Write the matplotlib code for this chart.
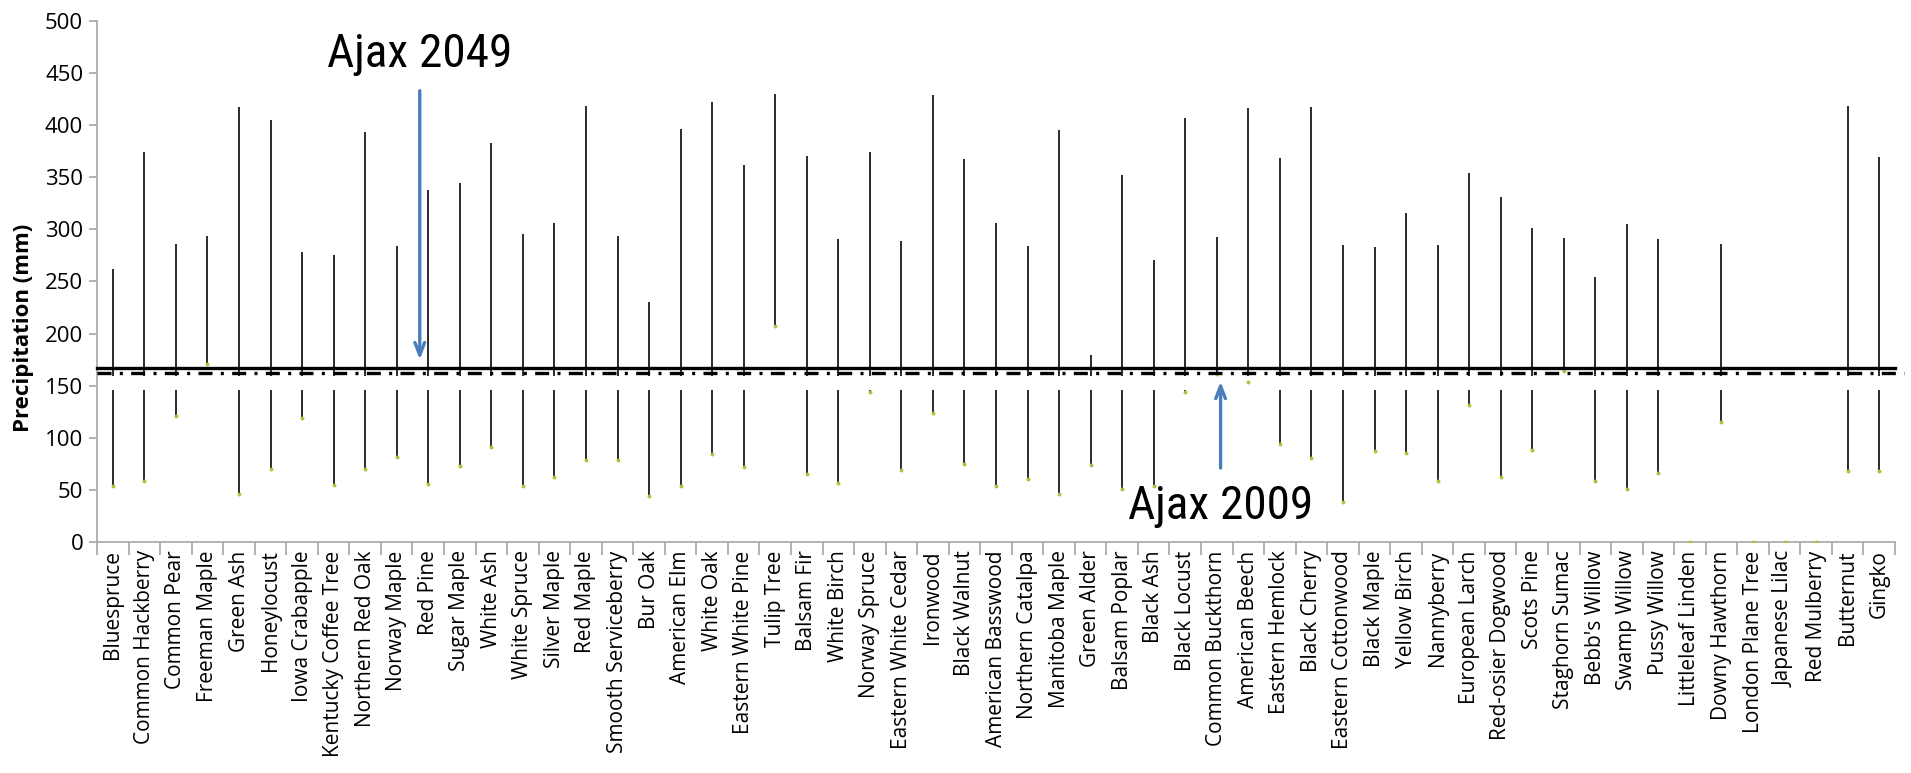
#!/usr/bin/env python3
"""Growing-season precipitation ranges for street and park tree species."""

import matplotlib

matplotlib.use("Agg")
import matplotlib.pyplot as plt
from matplotlib import font_manager
import numpy as np

species = [
    "Bluespruce", "Common Hackberry", "Common Pear", "Freeman Maple", "Green Ash",
    "Honeylocust", "Iowa Crabapple", "Kentucky Coffee Tree", "Northern Red Oak",
    "Norway Maple", "Red Pine", "Sugar Maple", "White Ash", "White Spruce",
    "Silver Maple", "Red Maple", "Smooth Serviceberry", "Bur Oak", "American Elm",
    "White Oak", "Eastern White Pine", "Tulip Tree", "Balsam Fir", "White Birch",
    "Norway Spruce", "Eastern White Cedar", "Ironwood", "Black Walnut",
    "American Basswood", "Northern Catalpa", "Manitoba Maple", "Green Alder",
    "Balsam Poplar", "Black Ash", "Black Locust", "Common Buckthorn",
    "American Beech", "Eastern Hemlock", "Black Cherry", "Eastern Cottonwood",
    "Black Maple", "Yellow Birch", "Nannyberry", "European Larch",
    "Red-osier Dogwood", "Scots Pine", "Staghorn Sumac", "Bebb's Willow",
    "Swamp Willow", "Pussy Willow", "Littleleaf Linden", "Downy Hawthorn",
    "London Plane Tree", "Japanese Lilac", "Red Mulberry", "Butternut", "Gingko",
]

# upper end of each species' precipitation range (mm)
precip_max = [
    262, 374, 286, 294, 417, 405, 278, 275, 393, 284,
    338, 344, 383, 296, 306, 418, 294, 230, 396, 422,
    362, 430, 370, 291, 374, 289, 429, 367, 306, 284,
    395, 179, 352, 271, 407, 293, 416, 368, 417, 285,
    283, 316, 285, 354, 331, 301, 292, 254, 305, 291,
    0, 286, 0, 0, 0, 418, 369,
]

# lower end of each species' precipitation range (mm)
precip_min = [
    54, 59, 121, 171, 46, 70, 119, 55, 70, 82,
    56, 73, 91, 54, 62, 79, 79, 44, 54, 84,
    72, 207, 65, 57, 144, 69, 124, 75, 54, 60,
    46, 74, 51, 54, 144, 161, 154, 94, 81, 38,
    87, 85, 59, 131, 62, 88, 164, 59, 51, 66,
    0, 115, 0, 0, 0, 68, 68,
]

ajax_2049 = 167.4  # mm, projected
ajax_2009 = 162.2  # mm, observed

y_ticks = np.arange(0, 501, 50)

LINE_GAP = (146, 159)  # white break in the range bars
ARROW_BLUE = "#4a7ebb"
AXIS_GREY = "#a6a6a6"


def pick_family(names):
    installed = {f.name for f in font_manager.fontManager.ttflist}
    return [n for n in names if n in installed] or ["DejaVu Sans"]


def main():
    fig = plt.figure(figsize=(19.11, 7.73), dpi=100)
    ax = fig.add_axes([0.0508, 0.2988, 0.9408, 0.6742])

    x = np.arange(len(species))
    lo = np.array(precip_min, dtype=float)
    hi = np.array(precip_max, dtype=float)

    ax.vlines(x, lo, hi, color="#1a1a1a", lw=1.3, zorder=2)
    ax.axhspan(*LINE_GAP, color="white", lw=0, zorder=2.2)
    ax.plot(x, lo, ls="none", marker="o", ms=2.8, color="#b8bd3c",
            mec="none", zorder=3)

    ax.plot([-0.5, 56.5], [ajax_2049, ajax_2049], color="black", lw=2.4,
            zorder=3, clip_on=False)
    ax.plot([-0.5, 56.8], [ajax_2009, ajax_2009], color="black", lw=2.4,
            ls=(0, (4.2, 2.5, 0.9, 2.5)), zorder=3, clip_on=False)

    # annotations for the two Ajax scenarios
    narrow = pick_family(["Liberation Sans Narrow", "Roboto Condensed",
                          "Open Sans Condensed", "Roboto"])
    head = "->,head_length=0.9,head_width=0.35"
    ax.annotate("", xy=(9.73, 175), xytext=(9.73, 433),
                arrowprops=dict(arrowstyle=head, color=ARROW_BLUE, lw=2.4,
                                shrinkA=0, shrinkB=0))
    ax.text(9.73, 468, "Ajax 2049", ha="center", va="center", fontsize=34,
            family=narrow)
    ax.annotate("", xy=(35.12, 154), xytext=(35.12, 71),
                arrowprops=dict(arrowstyle=head, color=ARROW_BLUE, lw=2.4,
                                shrinkA=0, shrinkB=0))
    ax.text(35.12, 35, "Ajax 2009", ha="center", va="center", fontsize=34,
            family=narrow)

    ax.set_xlim(-0.5, len(species) - 0.5)
    ax.set_ylim(0, 500)
    ax.set_yticks(y_ticks)
    ax.set_yticklabels([str(v) for v in y_ticks], family="Open Sans", fontsize=16)
    ax.set_xticks(x)
    ax.set_xticklabels(species, rotation=90, family="Open Sans", fontsize=15)
    ax.tick_params(axis="x", length=0, pad=6)
    ax.set_xticks(np.arange(-0.5, len(species)), minor=True)
    ax.tick_params(axis="x", which="minor", length=9, width=1.2, color=AXIS_GREY)
    ax.tick_params(axis="y", length=6, width=1.2, color=AXIS_GREY, pad=4)

    for side in ("top", "right"):
        ax.spines[side].set_visible(False)
    for side in ("left", "bottom"):
        ax.spines[side].set_color(AXIS_GREY)
        ax.spines[side].set_linewidth(1.2)

    ax.set_ylabel("Precipitation (mm)", family="Open Sans", fontweight="bold",
                  fontsize=16)
    ax.yaxis.set_label_coords(-0.035, 0.41)

    fig.savefig("out.png", dpi=100)


if __name__ == "__main__":
    main()
